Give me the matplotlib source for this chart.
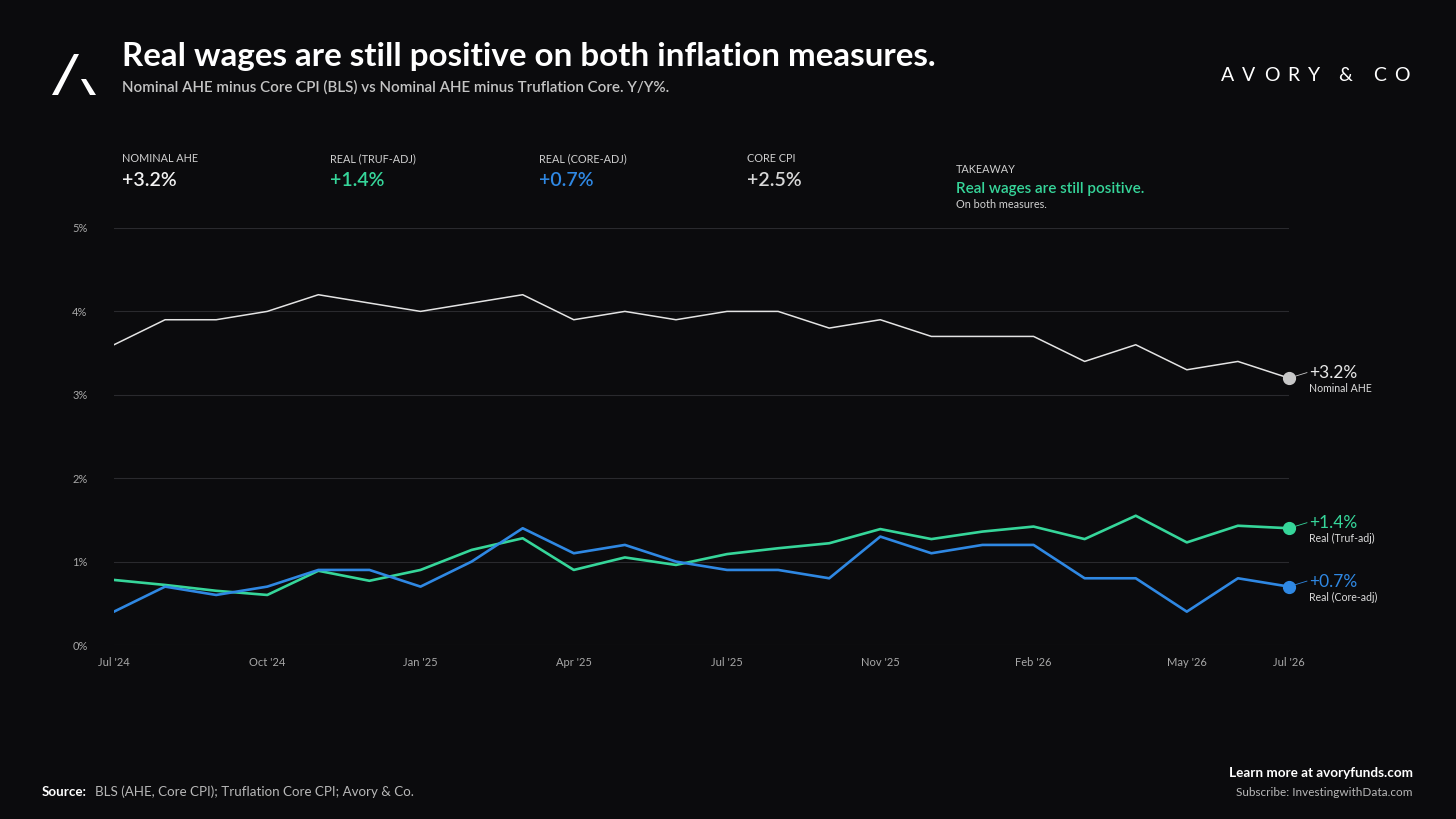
import matplotlib
matplotlib.use("Agg")
import matplotlib.pyplot as plt
from matplotlib.patches import Polygon

# ----------------------------------------------------------------
# DATA (Y/Y %, monthly)
# ----------------------------------------------------------------
nominal_ahe = [3.6, 3.9, 3.9, 4.0, 4.2, 4.1, 4.0, 4.1, 4.2, 3.9, 4.0, 3.9,
               4.0, 4.0, 3.8, 3.9, 3.7, 3.7, 3.7, 3.4, 3.6, 3.3, 3.4, 3.2]
real_truf = [0.78, 0.72, 0.65, 0.60, 0.89, 0.77, 0.90, 1.14, 1.28, 0.90, 1.05, 0.96,
             1.09, 1.16, 1.22, 1.39, 1.27, 1.36, 1.42, 1.27, 1.55, 1.23, 1.43, 1.40]
real_core = [0.4, 0.7, 0.6, 0.7, 0.9, 0.9, 0.7, 1.0, 1.4, 1.1, 1.2, 1.0,
             0.9, 0.9, 0.8, 1.3, 1.1, 1.2, 1.2, 0.8, 0.8, 0.4, 0.8, 0.7]
tick_idx = [0, 3, 6, 9, 12, 15, 18, 21, 23]
tick_labels = ["Jul '24", "Oct '24", "Jan '25", "Apr '25", "Jul '25",
               "Nov '25", "Feb '26", "May '26", "Jul '26"]
y_ticks = [0, 1, 2, 3, 4, 5]

kpi_labels = ["NOMINAL AHE", "REAL (TRUF-ADJ)", "REAL (CORE-ADJ)", "CORE CPI"]
kpi_values = ["+3.2%", "+1.4%", "+0.7%", "+2.5%"]

# ----------------------------------------------------------------
# STYLE
# ----------------------------------------------------------------
W, H = 1456, 819
BG = "#0b0b0d"
GRID = "#2a2a2e"
WHITE_LINE = "#e4e4e4"
DOT_GRAY = "#c8c8c8"
GREEN = "#36d69a"
BLUE = "#2f88e3"
TXT = "#f2f2f2"

plt.rcParams["font.family"] = ["Lato", "DejaVu Sans"]


def fx(x):
    return x / W


def fy(y):
    return 1 - y / H


fig = plt.figure(figsize=(W / 100, H / 100), dpi=100, facecolor=BG)

# header
fig.text(fx(122), fy(66), "Real wages are still positive on both inflation measures.",
         color="white", fontsize=23.9, fontweight="bold", va="baseline")
fig.text(fx(122), fy(92), "Nominal AHE minus Core CPI (BLS) vs Nominal AHE minus Truflation Core. Y/Y%.",
         color="#c4c4c4", fontsize=10.9, fontweight="semibold", va="baseline")

# logo mark
fig.add_artist(Polygon([(fx(52), fy(95)), (fx(58), fy(95)), (fx(79), fy(54)), (fx(74), fy(54))],
                       closed=True, facecolor="white", edgecolor="none", transform=fig.transFigure))
fig.add_artist(Polygon([(fx(81), fy(79)), (fx(86), fy(79)), (fx(96), fy(95)), (fx(90), fy(95))],
                       closed=True, facecolor="white", edgecolor="none", transform=fig.transFigure))

# brand, letter by letter
brand = "AVORY&CO"
brand_x = [1227.5, 1249, 1271.5, 1293, 1314, 1345, 1380, 1401.5]
for ch, x in zip(brand, brand_x):
    fig.text(fx(x), fy(81), ch, color="white", fontsize=14, fontweight="normal",
             ha="center", va="baseline")

# KPI row
kpi_x = [122, 330, 539, 747]
kpi_colors = [TXT, GREEN, BLUE, "#d8d8d8"]
for x, lab, val, c in zip(kpi_x, kpi_labels, kpi_values, kpi_colors):
    fig.text(fx(x), fy(162), lab, color="#cfcfcf", fontsize=7.8, va="baseline")
    fig.text(fx(x), fy(186), val, color=c, fontsize=14, fontweight="semibold", va="baseline")

fig.text(fx(956), fy(173), "TAKEAWAY", color="#cfcfcf", fontsize=7.8, va="baseline")
fig.text(fx(956), fy(193), "Real wages are still positive.", color=GREEN, fontsize=11,
         fontweight="semibold", va="baseline")
fig.text(fx(956), fy(208), "On both measures.", color="#d0d0d0", fontsize=7.8, va="baseline")

# ----------------------------------------------------------------
# CHART
# ----------------------------------------------------------------
ax = fig.add_axes([fx(114), fy(645), (1289 - 114) / W, (645 - 228) / H])
ax.set_facecolor(BG)
x = list(range(len(nominal_ahe)))

ax.plot(x, nominal_ahe, color=WHITE_LINE, lw=1.1, zorder=3)
ax.plot(x, real_truf, color=GREEN, lw=1.9, zorder=4)
ax.plot(x, real_core, color=BLUE, lw=1.9, zorder=4)

ax.set_xlim(0, len(x) - 1)
ax.set_ylim(0, 5)
ax.set_yticks(y_ticks)
ax.set_yticklabels([f"{t}%" for t in y_ticks])
ax.set_xticks(tick_idx)
ax.set_xticklabels(tick_labels)
ax.tick_params(axis="y", length=0, pad=19, labelsize=8, labelcolor="#a8a8a8")
ax.tick_params(axis="x", length=0, pad=9, labelsize=8, labelcolor="#a8a8a8")
ax.grid(axis="y", color=GRID, lw=0.8)
ax.grid(axis="x", visible=False)
for s in ax.spines.values():
    s.set_visible(False)
ax.set_axisbelow(True)

# end markers and labels
ends = [
    (nominal_ahe, DOT_GRAY, "#e8e8e8", "Nominal AHE"),
    (real_truf, GREEN, GREEN, "Real (Truf-adj)"),
    (real_core, BLUE, BLUE, "Real (Core-adj)"),
]
for series, dot_c, val_c, name in ends:
    xe, ye = x[-1], series[-1]
    ax.plot([xe], [ye], "o", ms=8.5, color=dot_c, clip_on=False, zorder=6)
    ax.annotate("", xy=(xe, ye), xytext=(13, 4), textcoords="offset points",
                arrowprops=dict(arrowstyle="-", color=dot_c, lw=0.6, shrinkA=0, shrinkB=4),
                annotation_clip=False)
    ax.annotate(f"+{ye:.1f}%", xy=(xe, ye), xytext=(14.5, 3.5), textcoords="offset points",
                color=val_c, fontsize=12.5, ha="left", va="center", annotation_clip=False)
    ax.annotate(name, xy=(xe, ye), xytext=(14.5, -7.5), textcoords="offset points",
                color="#dcdcdc", fontsize=7.6, ha="left", va="center", annotation_clip=False)

# footer
fig.text(fx(42), fy(796), "Source:", color="white", fontsize=9.6, fontweight="bold", va="baseline")
fig.text(fx(95), fy(796), "BLS (AHE, Core CPI); Truflation Core CPI; Avory & Co.",
         color="#b8b8b8", fontsize=9.6, va="baseline")
fig.text(fx(1413), fy(777), "Learn more at avoryfunds.com", color="white", fontsize=9.75,
         fontweight="bold", ha="right", va="baseline")
fig.text(fx(1413), fy(796), "Subscribe: InvestingwithData.com", color="#b8b8b8", fontsize=8.5,
         ha="right", va="baseline")

fig.savefig("out.png", dpi=100, facecolor=BG)
